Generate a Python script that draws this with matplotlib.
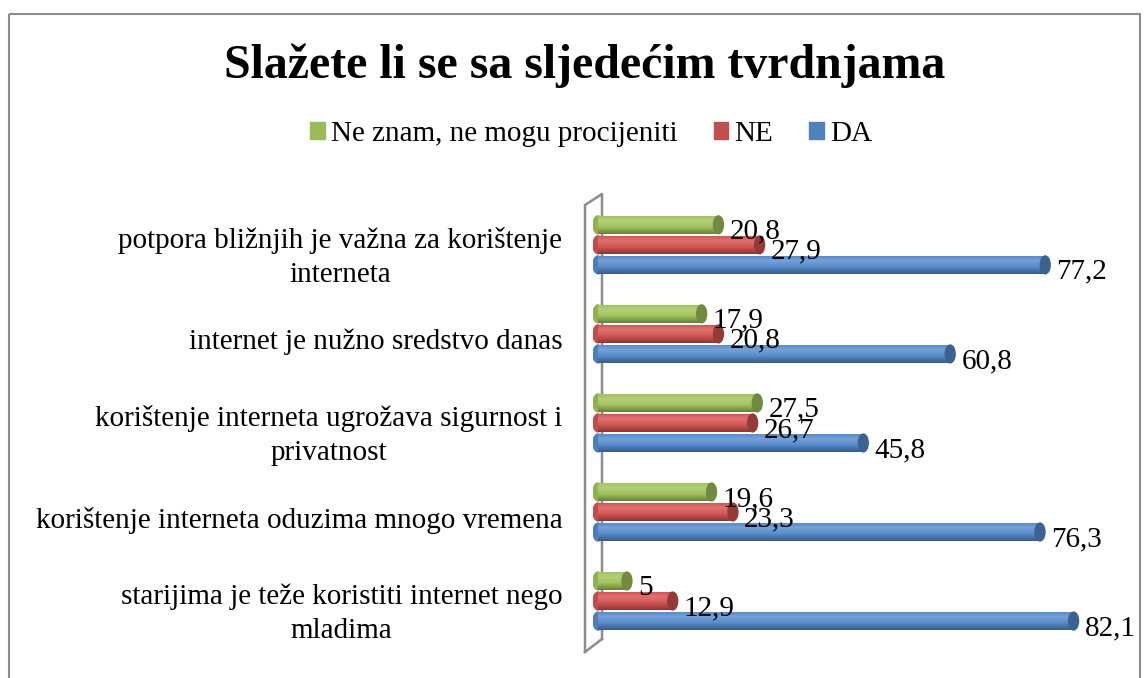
import numpy as np
import matplotlib.pyplot as plt
from matplotlib.patches import Ellipse, Rectangle
from matplotlib.lines import Line2D
from matplotlib.colors import to_rgb

plt.rcParams['font.family'] = ['Liberation Serif', 'DejaVu Serif']

title = 'Slažete li se sa sljedećim tvrdnjama'
categories = [
    'starijima je teže koristiti internet nego\nmladima',
    'korištenje interneta oduzima mnogo vremena',
    'korištenje interneta ugrožava sigurnost i\nprivatnost',
    'internet je nužno sredstvo danas',
    'potpora bližnjih je važna za korištenje\ninterneta',
]
series_names = ['Ne znam, ne mogu procijeniti', 'NE', 'DA']
ne_znam = [5, 19.6, 27.5, 17.9, 20.8]
ne = [12.9, 23.3, 26.7, 20.8, 27.9]
da = [82.1, 76.3, 45.8, 60.8, 77.2]
colors = ['#A2C45C', '#D45553', '#578CCD']
legend_colors = ['#9BBB59', '#C0504D', '#4F81BD']

W, H = 1146, 678
fig = plt.figure(figsize=(W / 100, H / 100), dpi=100)

# plot area in pixels
left, right, top, bottom = 593, 1140, 195, 650
ax = fig.add_axes([left / W, 1 - bottom / H, (right - left) / W, (bottom - top) / H])

px_per_unit = (1073 - 593) / 82.1
xmax = (right - left) / px_per_unit

y = np.arange(len(categories))
offsets = [0.225, 0.0, -0.225]
h = 0.2
cap_w = 10 / px_per_unit


def shade(c, f):
    c = np.array(to_rgb(c))
    if f >= 0:
        return c + (1 - c) * f
    return c * (1 + f)


for vals, off, col in zip([ne_znam, ne, da], offsets, colors):
    bars = ax.barh(y + off, vals, height=h, color=col, zorder=2)
    # vertical gradient to imitate the cylinder
    t = np.linspace(0, 1, 40)
    fs = np.interp(t, [0, 0.25, 0.6, 1], [0.0, 0.18, 0.0, -0.35])
    grad = np.array([shade(col, f) for f in fs])[:, None, :]
    for b, v in zip(bars, vals):
        yc = b.get_y() + b.get_height() / 2
        ax.add_patch(Ellipse((0, yc), cap_w, h, color=shade(col, -0.1), zorder=2))
        ax.imshow(grad, extent=(0, v, b.get_y(), b.get_y() + b.get_height()),
                  aspect='auto', origin='upper', zorder=3, interpolation='bilinear')
        ax.add_patch(Ellipse((v, yc), cap_w, h, color=shade(col, -0.3), zorder=4))
        ax.annotate(f'{v:g}'.replace('.', ','), (v, yc), xytext=(8, -5),
                    textcoords='offset points', ha='left', va='center',
                    fontsize=21, zorder=5)

ax.set_xlim(-cap_w / 2, xmax)
ax.set_ylim(-0.55, 4.56)
ax.set_yticks(y - 0.06)
ax.set_yticklabels(categories, fontsize=21)
for lab in ax.get_yticklabels():
    lab.set_multialignment('center')
    lab.set_linespacing(1.4)
ax.tick_params(axis='y', length=0, pad=22)
ax.set_xticks([])
for s in ax.spines.values():
    s.set_visible(False)
ax.patch.set_alpha(0)

# overlay for the 3D wall and the chart border
ov = fig.add_axes([0, 0, 1, 1], zorder=-1)
ov.set_xlim(0, W)
ov.set_ylim(H, 0)
ov.axis('off')
wall = dict(color='#8C8C8C', lw=1.8)
ov.add_line(Line2D([585, 585, 602, 602], [652, 205, 194, 639], **wall))
ov.add_line(Line2D([585, 602], [652, 639], **wall))
ov.add_patch(Rectangle((9, 14), 1131, 700, fill=False, edgecolor='#8C8C8C', lw=1.5))

fig.text(585 / W, 1 - 66 / H, title, ha='center', va='center',
         fontsize=34.5, fontweight='bold')

handles = [Rectangle((0, 0), 1, 1, color=c) for c in legend_colors]
fig.legend(handles, series_names, loc='center', bbox_to_anchor=(591 / W, 1 - 134 / H),
           ncol=3, frameon=False, fontsize=21, handlelength=0.5, handleheight=0.5,
           handletextpad=0.2, columnspacing=1.25)

fig.savefig('out.png', dpi=100)
